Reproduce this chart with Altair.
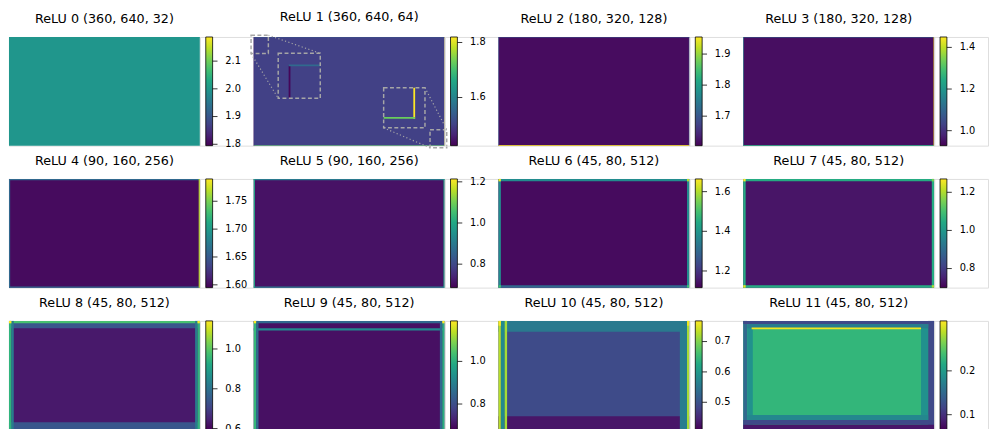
import altair as alt
import pandas as pd

FONT = "DejaVu Sans"

# ---------------- panel meta data ----------------
titles = [
    "ReLU 0 (360, 640, 32)", "ReLU 1 (360, 640, 64)", "ReLU 2 (180, 320, 128)", "ReLU 3 (180, 320, 128)",
    "ReLU 4 (90, 160, 256)", "ReLU 5 (90, 160, 256)", "ReLU 6 (45, 80, 512)", "ReLU 7 (45, 80, 512)",
    "ReLU 8 (45, 80, 512)", "ReLU 9 (45, 80, 512)", "ReLU 10 (45, 80, 512)", "ReLU 11 (45, 80, 512)",
]
shapes = [(360, 640), (360, 640), (180, 320), (180, 320), (90, 160), (90, 160),
          (45, 80), (45, 80), (45, 80), (45, 80), (45, 80), (45, 80)]
cbar_lo = [1.795, 1.425, 1.605, 0.928, 1.595, 0.686, 1.116, 0.70, 0.595, 0.68, 0.41, 0.066]
cbar_hi = [2.187, 1.820, 1.955, 1.450, 1.790, 1.214, 1.664, 1.27, 1.141, 1.19, 0.768, 0.314]
cbar_ticks = [
    [1.8, 1.9, 2.0, 2.1], [1.6, 1.8], [1.7, 1.8, 1.9], [1.0, 1.2, 1.4],
    [1.60, 1.65, 1.70, 1.75], [0.8, 1.0, 1.2], [1.2, 1.4, 1.6], [0.8, 1.0, 1.2],
    [0.6, 0.8, 1.0], [0.8, 1.0], [0.5, 0.6, 0.7], [0.1, 0.2],
]
cbar_decimals = [1, 1, 1, 1, 2, 1, 1, 1, 1, 1, 1, 1]

# ---------------- activation regions: (col0, col1, row0, row1, value) ----------------
relu0 = [(0, 640, 0, 360, 2.0)]
relu1 = [
    (0, 640, 0, 360, 1.50),
    (0, 640, 0, 1, 1.56), (0, 640, 359, 360, 1.72),
    (0, 1, 0, 360, 1.44), (639, 640, 0, 360, 1.82),
    # zoomed inset, top-left corner
    (82, 223, 54, 203, 1.50), (117, 123, 94, 203, 1.43), (117, 223, 91, 97, 1.56),
    # zoomed inset, bottom-right corner
    (435.5, 574, 168, 301, 1.50), (535, 541, 168, 271, 1.82), (435.5, 541, 265, 271, 1.73),
]
relu2 = [(0, 320, 0, 180, 1.615), (0, 320, 0, 1, 1.70), (0, 1, 0, 180, 1.70),
         (319, 320, 0, 180, 1.70), (0, 320, 179, 180, 1.955)]
relu3 = [(0, 320, 0, 180, 0.945), (0, 320, 0, 1, 1.10), (0, 1, 0, 180, 1.15),
         (0, 320, 179, 180, 1.25), (319, 320, 0, 180, 1.45)]
relu4 = [(0, 160, 0, 90, 1.600), (0, 160, 0, 1, 1.66), (0, 1, 0, 90, 1.66),
         (0, 160, 89, 90, 1.66), (159, 160, 0, 90, 1.77)]
relu5 = [(0, 160, 0, 90, 0.71), (0, 160, 0, 1, 0.90), (0, 160, 89, 90, 0.90),
         (0, 1, 0, 90, 1.00), (159, 160, 0, 90, 1.00)]
relu6 = [(0, 80, 0, 45, 1.13), (0, 80, 0, 1, 1.38), (0, 80, 44, 45, 1.30),
         (0, 1, 0, 45, 1.38), (79, 80, 0, 45, 1.38),
         (0, 1, 0, 1, 1.66), (79, 80, 0, 1, 1.60), (0, 1, 44, 45, 1.50), (79, 80, 44, 45, 1.50)]
relu7 = [(0, 80, 0, 45, 0.73), (0, 80, 0, 1, 1.05), (0, 80, 44, 45, 1.05),
         (0, 1, 0, 45, 1.05), (79, 80, 0, 45, 1.05),
         (0, 1, 0, 1, 1.27), (0, 1, 44, 45, 1.25), (79, 80, 0, 1, 1.15), (79, 80, 44, 45, 1.20)]
relu8 = [(0, 80, 0, 45, 0.63), (0, 80, 0, 3, 0.74), (0, 80, 42, 45, 0.74), (0, 80, 0, 1, 0.98),
         (1, 2, 0, 45, 0.82), (78, 79, 0, 45, 0.82), (0, 1, 0, 45, 0.95), (79, 80, 0, 45, 0.95),
         (0, 1, 0, 1, 1.14), (79, 80, 0, 1, 1.14)]
relu9 = [(0, 80, 0, 45, 0.70), (0, 80, 0, 1, 0.85), (0, 80, 3, 4, 0.92),
         (1, 2, 0, 45, 0.85), (78, 79, 0, 45, 0.85), (0, 1, 0, 45, 1.02), (79, 80, 0, 45, 1.00),
         (0, 1, 0, 1, 1.19), (79, 80, 0, 1, 1.19)]
relu10 = [(0, 80, 0, 45, 0.49), (0, 80, 0, 4.5, 0.555), (0, 80, 39.5, 45, 0.43),
          (0, 1, 0, 45, 0.73), (1, 2.6, 0, 45, 0.58), (2.6, 3.6, 0, 45, 0.72),
          (76, 79, 0, 45, 0.56), (79, 80, 0, 45, 0.72),
          (0, 1, 0, 2, 0.768), (79, 80, 0, 2, 0.76)]
relu11 = [(0, 80, 0, 45, 0.23), (0, 1.7, 0, 45, 0.15), (1.7, 4, 1.5, 43, 0.19),
          (74.5, 77.5, 1.5, 43, 0.19), (77.5, 80, 0, 45, 0.12),
          (0, 80, 0, 1.3, 0.12), (1.7, 77.5, 1.3, 3, 0.17), (3.5, 74.5, 2.7, 3.5, 0.31),
          (1.7, 77.5, 39, 41, 0.18), (0, 80, 41, 43, 0.12), (0, 80, 43, 45, 0.08)]
regions = [relu0, relu1, relu2, relu3, relu4, relu5, relu6, relu7, relu8, relu9, relu10, relu11]

# ReLU 1 zoom annotations (feature-map coordinates)
inset_boxes = [(-9, 49, -6, 55), (82, 223, 54, 203), (435.5, 574, 168, 301), (591, 647, 307, 367)]
inset_links = [(49, 223, -6, 54), (-9, 82, 55, 203), (574, 647, 168, 307), (435.5, 591, 301, 367)]

viridis = ["#440154", "#482475", "#414487", "#355f8d", "#2a788e", "#21918c",
           "#22a884", "#44bf70", "#7ad151", "#bddf26", "#fde725"]

HEAT_W, HEAT_H = 195, 111
CB_GAP, CB_W, CB_TOTAL = 6, 7, 55
TICK_LEN, LABEL_X = 5, 26


def heatmap(i):
    H, W = shapes[i]
    lo, hi = cbar_lo[i], cbar_hi[i]
    df = pd.DataFrame(regions[i], columns=["x0", "x1", "y0", "y1", "v"])
    xs = alt.Scale(domain=[0, W], nice=False, zero=False)
    ys = alt.Scale(domain=[0, H], nice=False, zero=False, reverse=True)
    chart = alt.Chart(df).mark_rect(strokeWidth=0).encode(
        x=alt.X("x0:Q", scale=xs, axis=None),
        x2="x1:Q",
        y=alt.Y("y0:Q", scale=ys, axis=None),
        y2="y1:Q",
        color=alt.Color("v:Q", scale=alt.Scale(scheme="viridis", domain=[lo, hi], clamp=True), legend=None),
    )
    if i == 1:
        boxes = pd.DataFrame(inset_boxes, columns=["x0", "x1", "y0", "y1"])
        links = pd.DataFrame(inset_links, columns=["x0", "x1", "y0", "y1"])
        box_layer = alt.Chart(boxes).mark_rect(
            filled=False, stroke="#a6a6a6", strokeWidth=1.5, strokeDash=[4, 2.5]
        ).encode(x=alt.X("x0:Q", scale=xs, axis=None), x2="x1:Q",
                 y=alt.Y("y0:Q", scale=ys, axis=None), y2="y1:Q")
        link_layer = alt.Chart(links).mark_rule(
            stroke="#a6a6a6", strokeWidth=1.2, strokeDash=[1.2, 2.4]
        ).encode(x=alt.X("x0:Q", scale=xs, axis=None), x2="x1:Q",
                 y=alt.Y("y0:Q", scale=ys, axis=None), y2="y1:Q")
        chart = alt.layer(chart, link_layer, box_layer)
    return chart.properties(
        width=HEAT_W, height=HEAT_H,
        title=alt.TitleParams(titles[i], font=FONT, fontSize=13, fontWeight="normal",
                              color="black", anchor="middle", frame="group", offset=11),
    )


def colorbar(i):
    lo, hi = cbar_lo[i], cbar_hi[i]
    ys = alt.Scale(domain=[lo, hi], nice=False, zero=False)
    bar = pd.DataFrame({"lo": [lo], "hi": [hi]})
    ticks = pd.DataFrame({"t": cbar_ticks[i],
                          "label": [f"{t:.{cbar_decimals[i]}f}" for t in cbar_ticks[i]]})
    grad = alt.LinearGradient(
        gradient="linear",
        stops=[alt.GradientStop(color=c, offset=k / (len(viridis) - 1)) for k, c in enumerate(viridis)],
        x1=0, x2=0, y1=1, y2=0,
    )
    rect = alt.Chart(bar).mark_rect(fill=grad, stroke="black", strokeWidth=0.8).encode(
        x=alt.value(CB_GAP), x2=alt.value(CB_GAP + CB_W),
        y=alt.Y("lo:Q", scale=ys, axis=None), y2="hi:Q",
    )
    tick = alt.Chart(ticks).mark_rule(color="black", strokeWidth=0.8).encode(
        x=alt.value(CB_GAP + CB_W), x2=alt.value(CB_GAP + CB_W + TICK_LEN),
        y=alt.Y("t:Q", scale=ys, axis=None),
    )
    lab = alt.Chart(ticks).mark_text(align="left", baseline="middle", font=FONT, fontSize=10,
                                     color="black").encode(
        x=alt.value(LABEL_X),
        y=alt.Y("t:Q", scale=ys, axis=None),
        text="label:N",
    )
    return alt.layer(rect, tick, lab).properties(width=CB_TOTAL, height=HEAT_H)


cells = []
for i in range(12):
    cells.append(heatmap(i))
    cells.append(colorbar(i))

chart = alt.concat(*cells, columns=8, spacing={"row": 34, "column": 0}, bounds="flush",
                   align="each").resolve_scale(color="independent").properties(
    padding={"left": 0, "top": -3, "right": 0, "bottom": 0}
).configure_view(strokeWidth=0).configure(background="white")

chart.save("out.html", embed_options={"renderer": "svg", "actions": False})
